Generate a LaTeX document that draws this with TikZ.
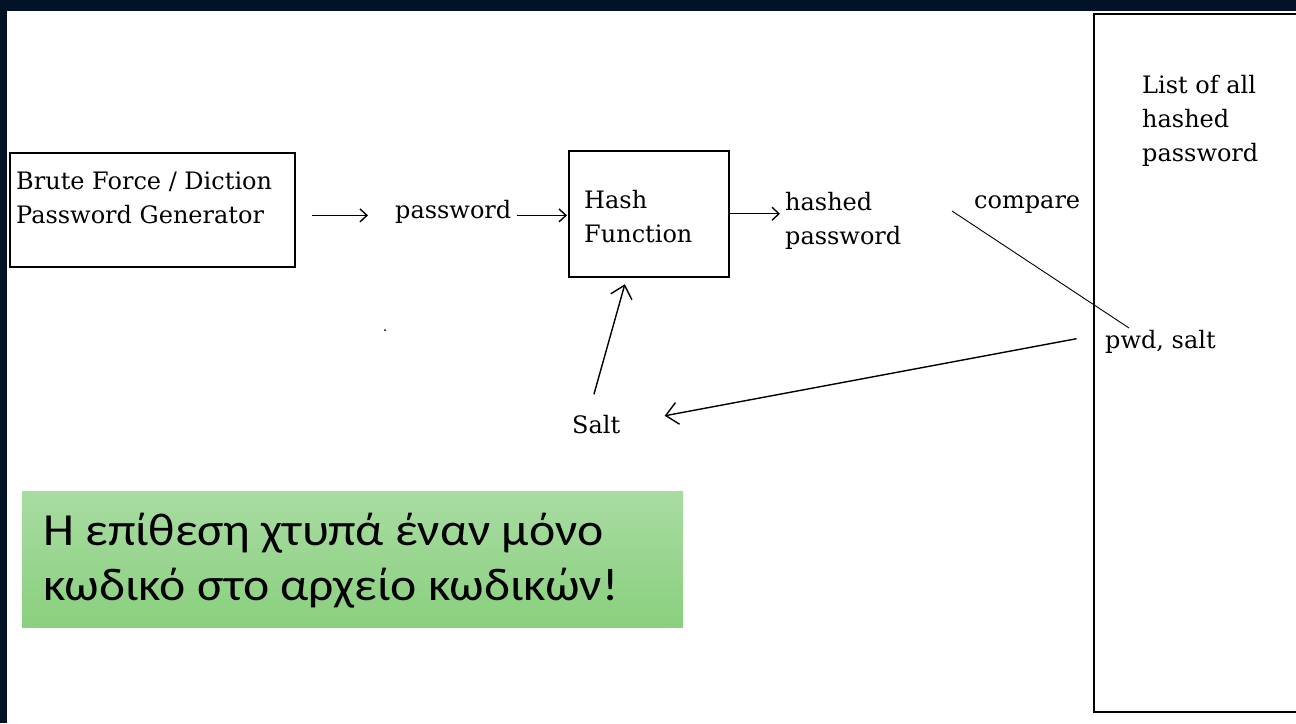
\documentclass[tikz,border=0pt]{standalone}
\usepackage{fontspec}
\setmainfont{DejaVu Serif}
\newfontfamily\grfont[FakeStretch=1.08]{Carlito}
\usepackage{tikz}
\usetikzlibrary{positioning}
\usetikzlibrary{arrows.meta}

\definecolor{slidenavy}{HTML}{021328}
\definecolor{notetop}{HTML}{A8DCA2}
\definecolor{notebot}{HTML}{8AD07E}

\begin{document}
\begin{tikzpicture}[x=1pt,y=-1pt,font=\fontsize{24}{34}\selectfont,
    box style/.style={draw=black,line width=1.5pt,inner sep=0pt},
    lbl style/.style={inner sep=0pt,align=left},
    arr style/.style={line width=1.4pt,-{Straight Barb[length=7pt,width=13pt]}},
    big arr style/.style={line width=1.4pt,-{Straight Barb[length=12pt,width=22pt]}}
  ]
  \useasboundingbox (0,0) rectangle (1296,723);
  \clip (0,0) rectangle (1296,723);
  \fill[slidenavy] (0,0) rectangle (1296,723);
  \fill[white] (7,11) rectangle (1296,723);

  % generator and hash boxes
  \node[box style,anchor=north west,minimum width=285pt,minimum height=114pt] (gen) at (9,152) {};
  \node[lbl style,below right=20pt and 7pt of gen.north west] (gentxt) {Brute Force / Diction\\Password Generator};
  \node[lbl style,anchor=base west] (pw) at (395,218) {password};
  \node[box style,anchor=north west,minimum width=160pt,minimum height=126pt] (hash) at (568,150) {};
  \node[lbl style,below right=40pt and 16pt of hash.north west] (hashtxt) {Hash\\Function};
  \node[lbl style,anchor=north west] (hp) at (785,192) {hashed\\password};
  \node[lbl style,anchor=base west] (cmp) at (974,208) {compare};

  % password file
  \node[box style,anchor=north west,minimum width=260pt,minimum height=698pt] (list) at (1093,13) {};
  \node[lbl style,below right=62pt and 49pt of list.north west] (listtxt) {List of all\\hashed\\password};
  \node[lbl style,anchor=base west] (pwd) at (1105,348) {pwd, salt};
  \node[lbl style,anchor=base west] (salt) at (572,433) {Salt};

  \draw[arr style,shorten <=16pt,shorten >=27pt] (gen.east |- pw.mid west) -- (pw.mid west);
  \draw[arr style,shorten <=5pt,shorten >=1pt] (pw.mid east) -- (hash.west |- pw.mid east);
  \draw[arr style,shorten >=5pt] (hash.east) -- (hash.east -| hp.west);
  \draw[big arr style,shorten <=21pt,shorten >=7pt] ([xshift=-8pt]salt.north) -- ([xshift=-22pt]hash.south);
  \draw[big arr style,shorten <=29pt,shorten >=45pt] ([yshift=8pt]pwd.west) -- (salt.east);
  \coordinate (cmp a) at (952,211);
  \coordinate (cmp b) at (1129,328);
  \draw[line width=0.9pt] (cmp a) -- (cmp b);
  \fill (385,330) circle (1pt);

  % note
  \node[anchor=north west,minimum width=661pt,minimum height=136pt,inner sep=0pt,
    top color=notetop,bottom color=notebot] (note) at (22,491) {};
  \node[lbl style,font=\grfont\fontsize{46}{55}\selectfont,below right=22pt and 21pt of note.north west] (notetxt)
    {Η επίθεση χτυπά έναν μόνο\\κωδικό στο αρχείο κωδικών!};
\end{tikzpicture}
\end{document}
